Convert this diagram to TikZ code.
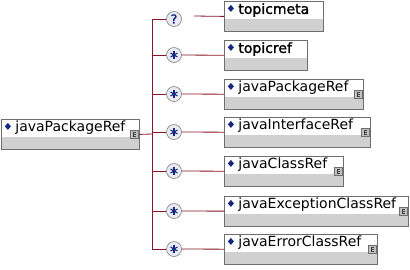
\documentclass[tikz,border=0pt]{standalone}
\usepackage{fontspec}
\setmainfont{DejaVu Sans}
\newfontfamily\heavyface[FakeBold=1.5]{DejaVu Sans}
\usepackage{xcolor}
\usepackage{tikz}
\usetikzlibrary{positioning}

\definecolor{linkred}{RGB}{140,20,40}
\definecolor{boxgray}{RGB}{208,208,208}
\definecolor{edgegray}{RGB}{110,110,110}
\definecolor{markblue}{RGB}{20,40,130}
\definecolor{ringfill}{RGB}{234,234,242}

\begin{document}
\begin{tikzpicture}[
    x = 1pt, y = -1pt,
    elem/.style={
        rectangle, anchor = north west,
        draw = edgegray, line width = 0.8pt, fill = white, % border
        inner xsep = 0pt, inner ysep = 3pt,
        text width = #1, align = left,
        text height = 9.5pt, text depth = 14.5pt,
        font = \fontsize{14}{16}\selectfont,
        execute at begin node = {\hspace*{14pt}},
        path picture = {
            % grey lower band
            \fill[boxgray] (path picture bounding box.south west)
                rectangle ([yshift=12pt]path picture bounding box.south east);
            % small blue diamond before the name
            \fill[markblue] ([xshift=6.5pt,yshift=-7pt]path picture bounding box.north west)
                +(-3pt,0pt) -- +(0pt,3.5pt) -- +(3pt,0pt) -- +(0pt,-3.5pt) -- cycle;
        }
      },
    boldname/.style = {font = \heavyface\fontsize{14}{16}\selectfont},
    refmark/.style={
        rectangle, anchor = north east,
        draw = edgegray, line width = 0.6pt, fill = boxgray!80!gray,
        minimum size = 8pt, inner sep = 0pt,
        path picture = {
            \draw[black!75, line width = 0.5pt]
                ([xshift=5.8pt,yshift=1.6pt]path picture bounding box.south west)
                -- ++(-2.6pt,0pt) -- ++(0pt,4.6pt) -- ++(2.6pt,0pt)
                ++(-2.6pt,-2.3pt) -- ++(1.8pt,0pt);
        }
      },
    ring/.style={
        circle, draw = gray, fill = ringfill, line width = 0.6pt,
        minimum size = 15pt, inner sep = 0pt
      },
    many/.style={
        ring,
        path picture = {
            \foreach \a in {90,30,150}
              \draw[markblue, line width = 1.1pt]
                ([shift={(\a:4pt)}]path picture bounding box.center)
                -- ([shift={(\a+180:4pt)}]path picture bounding box.center);
        }
      },
    optional/.style = {ring, text = markblue, font = \heavyface\fontsize{12.5}{12.5}\selectfont},
    link/.style = {draw = linkred, line width = 0.8pt}
  ]
  \useasboundingbox (0,0) rectangle (410,269);

  % parent element
  \node [elem=138pt] (root) at (1,119) {javaPackageRef};
  \node [refmark] (rootref) at ([xshift=-1pt,yshift=-11pt]root.north east) {};

  % children
  \node [elem=99pt, boldname] (topicmeta) at (224,1) {topicmeta};
  \node [elem=83pt, boldname] (topicref) at (224,40) {topicref};
  \node [elem=139pt] (pkgref) at (224,79) {javaPackageRef};
  \node [elem=146pt] (ifaceref) at (224,117) {javaInterfaceRef};
  \node [elem=119pt] (classref) at (224,156) {javaClassRef};
  \node [elem=184pt] (excref) at (224,196) {javaExceptionClassRef};
  \node [elem=153pt] (errref) at (224,234) {javaErrorClassRef};

  \foreach \b in {pkgref,ifaceref,classref,excref,errref}
    \node [refmark] (\b mark) at ([xshift=-1pt,yshift=-11pt]\b.north east) {};

  % occurrence markers
  \node [optional] (occmeta) at (174,19) {?};
  \node [many] (occref) at (174,55) {};
  \node [many] (occpkg) at (174,94) {};
  \node [many] (occiface) at (174,132) {};
  \node [many] (occclass) at (174,171) {};
  \node [many] (occexc) at (174,211) {};
  \node [many] (occerr) at (174,249) {};

  % sequence fork
  \coordinate (fork) at (152,134);
  \coordinate (metagap) at (194,16);
  \draw [link] (root.east) -- (fork);
  \foreach \o in {occmeta,occref,occpkg,occiface,occclass,occexc,occerr}
    \draw [link] (fork) |- (\o.west);
  \draw [link] (metagap) -- (topicmeta.west);
  \draw [link] (occref) -- (topicref);
  \draw [link] (occpkg) -- (pkgref);
  \draw [link] (occiface) -- (ifaceref);
  \draw [link] (occclass) -- (classref);
  \draw [link] (occexc) -- (excref);
  \draw [link] (occerr) -- (errref);
\end{tikzpicture}
\end{document}
